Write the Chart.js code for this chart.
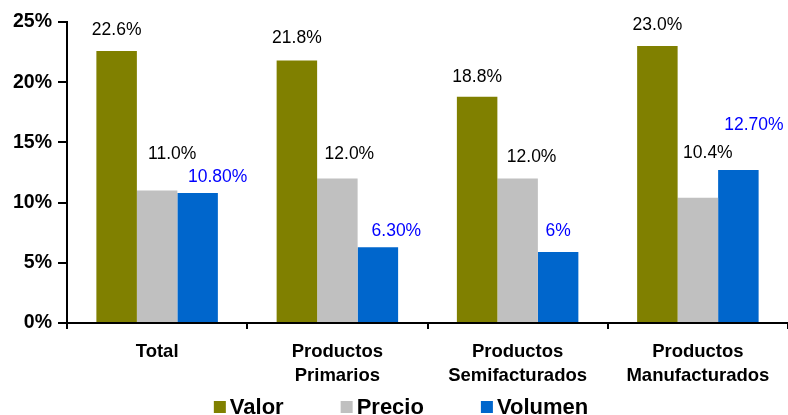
<!DOCTYPE html>
<html>
<head>
<meta charset="utf-8">
<script src="https://cdn.jsdelivr.net/npm/chart.js@4"></script>
<style>
html,body{margin:0;padding:0;background:#fff;}
#wrap{width:788px;height:415px;position:relative;}
</style>
</head>
<body>
<div id="wrap"><canvas id="c"></canvas></div>
<script>
// ---- data ----
const categories = [['Total'], ['Productos', 'Primarios'], ['Productos', 'Semifacturados'], ['Productos', 'Manufacturados']];
const seriesNames = ['Valor', 'Precio', 'Volumen'];
const valor = [22.6, 21.8, 18.8, 23.0];
const precio = [11.0, 12.0, 12.0, 10.4];
const volumen = [10.8, 6.3, 5.9, 12.7];
const valorLabels = ['22.6%', '21.8%', '18.8%', '23.0%'];
const precioLabels = ['11.0%', '12.0%', '12.0%', '10.4%'];
const volumenLabels = ['10.80%', '6.30%', '6%', '12.70%'];
const yTicks = [0, 5, 10, 15, 20, 25];

// ---- styling ----
const FONT = "'Liberation Sans', Arial, Helvetica, sans-serif";
const colors = ['#808000', '#C0C0C0', '#0066CC'];
const labelColors = ['#000000', '#000000', '#0000FF'];
// label offsets relative to bar centre / bar top (dx, dy)
const labelOffsets = [
  [[0,-21],[0,-22],[0,-19],[0,-21]],
  [[15,-36],[12,-24],[14,-21],[10,-45]],
  [[20,-16],[18.5,-16],[0,-21],[15.5,-45]]
];

const dataLabels = {
  id: 'dataLabels',
  afterDatasetsDraw(chart) {
    const ctx = chart.ctx;
    ctx.save();
    ctx.font = '17.5px ' + FONT;
    ctx.textAlign = 'center';
    ctx.textBaseline = 'middle';
    chart.data.datasets.forEach((ds, di) => {
      const meta = chart.getDatasetMeta(di);
      meta.data.forEach((el, i) => {
        const off = labelOffsets[di][i];
        ctx.fillStyle = labelColors[di];
        ctx.fillText(ds.valueLabels[i], el.x + off[0], el.y + off[1]);
      });
    });
    ctx.restore();
  }
};

const customLegend = {
  id: 'customLegend',
  afterDraw(chart) {
    const ctx = chart.ctx;
    ctx.save();
    ctx.font = 'bold 22px ' + FONT;
    ctx.textBaseline = 'middle';
    ctx.textAlign = 'left';
    const box = 12, gapText = 4, gapItem = 57;
    const items = chart.data.datasets.map(ds => ({ text: ds.label, color: ds.backgroundColor, w: box + gapText + ctx.measureText(ds.label).width }));
    const total = items.reduce((s, it) => s + it.w, 0) + gapItem * (items.length - 1);
    let x = 401 - total / 2;
    const yc = 407;
    items.forEach(it => {
      ctx.fillStyle = it.color;
      ctx.fillRect(x, yc - box / 2, box, box);
      ctx.fillStyle = '#000';
      ctx.fillText(it.text, x + box + gapText, yc + 1);
      x += it.w + gapItem;
    });
    ctx.restore();
  }
};

new Chart(document.getElementById('c'), {
  type: 'bar',
  data: {
    labels: categories,
    datasets: [
      { label: seriesNames[0], data: valor, valueLabels: valorLabels, backgroundColor: colors[0] },
      { label: seriesNames[1], data: precio, valueLabels: precioLabels, backgroundColor: colors[1] },
      { label: seriesNames[2], data: volumen, valueLabels: volumenLabels, backgroundColor: colors[2] }
    ]
  },
  options: {
    responsive: true,
    maintainAspectRatio: false,
    animation: false,
    layout: { padding: { top: 22, right: 0, bottom: 30, left: 0 } },
    datasets: { bar: { categoryPercentage: 0.674, barPercentage: 1.0, borderWidth: 0 } },
    plugins: { legend: { display: false }, tooltip: { enabled: false } },
    scales: {
      x: {
        offset: true,
        grid: { display: true, offset: true, drawOnChartArea: false, drawTicks: true, tickLength: 6, color: '#000', lineWidth: 2 },
        border: { display: true, color: '#000', width: 2 },
        ticks: { color: '#000', font: { family: FONT, size: 18.5, weight: 'bold', lineHeight: 1.3 }, padding: 11, maxRotation: 0, autoSkip: false },
        afterFit(scale) { scale.height = 62; }
      },
      y: {
        min: 0,
        max: 25,
        afterBuildTicks(scale) { scale.ticks = yTicks.map(v => ({ value: v })); },
        grid: { display: true, drawOnChartArea: false, drawTicks: true, tickLength: 9, color: '#000', lineWidth: 2 },
        border: { display: true, color: '#000', width: 2 },
        ticks: { color: '#000', font: { family: FONT, size: 19.5, weight: 'bold' }, padding: 6, callback: v => v + '%' },
        afterFit(scale) { scale.width = 67; }
      }
    }
  },
  plugins: [dataLabels, customLegend]
});
</script>
</body>
</html>
